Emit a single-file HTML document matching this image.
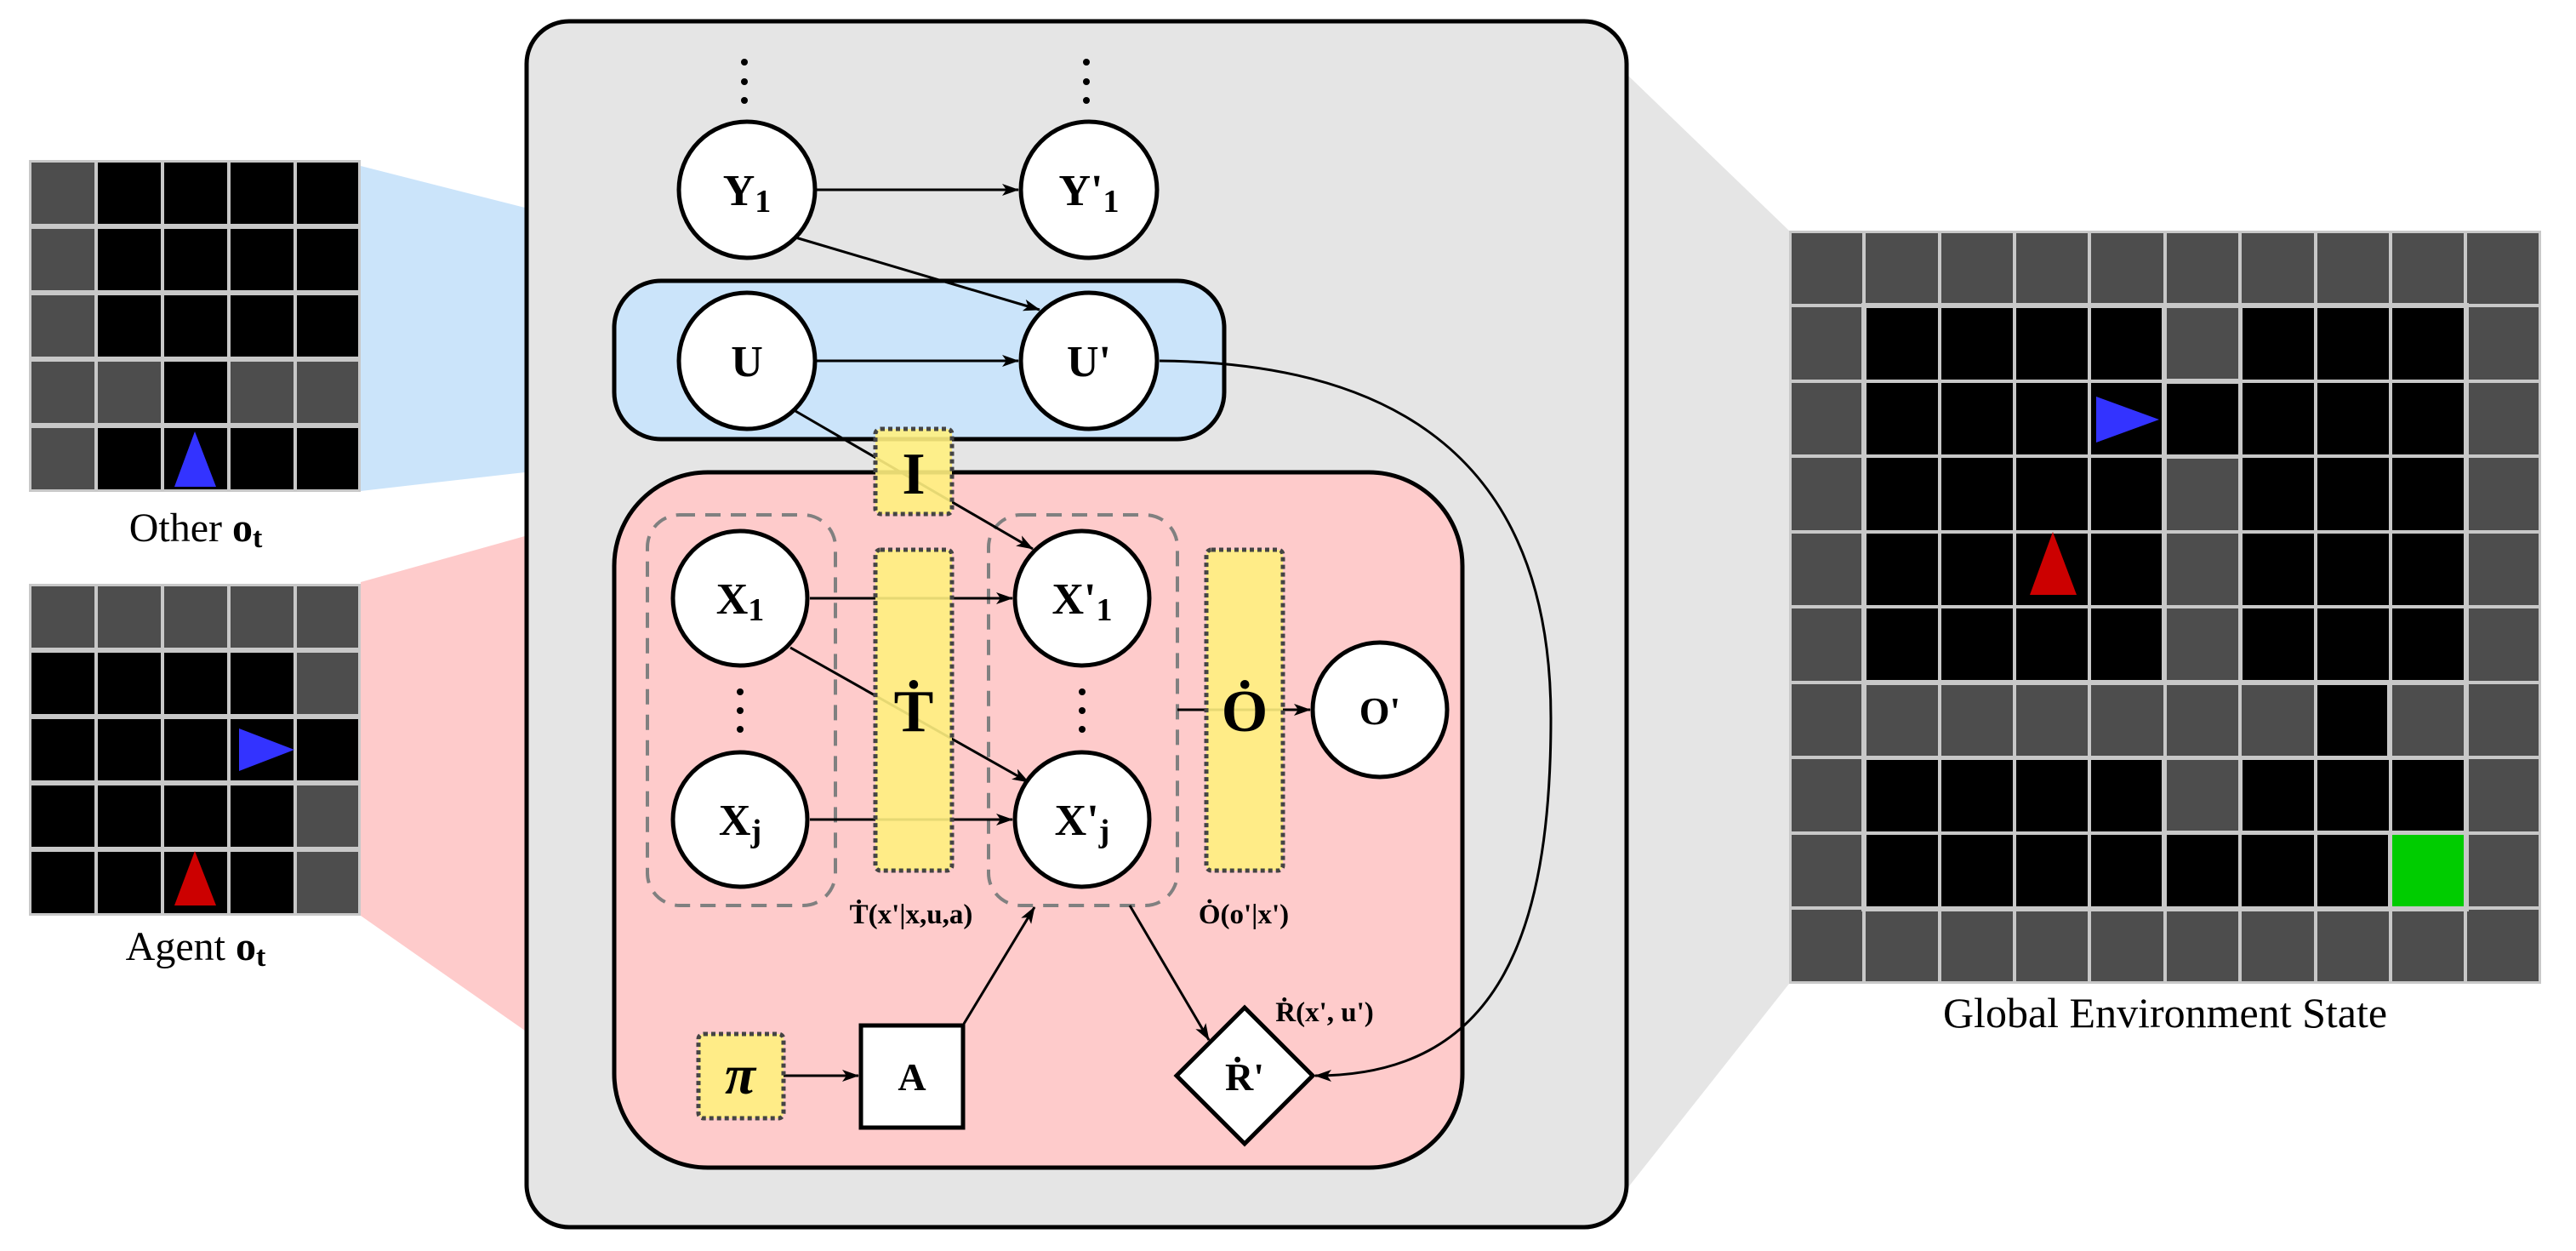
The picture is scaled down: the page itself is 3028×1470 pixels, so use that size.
<!DOCTYPE html>
<html><head><meta charset="utf-8"><style>
html,body{margin:0;padding:0;background:#fff;}
svg{display:block;}
text{font-family:"Liberation Serif",serif;}
.b{font-weight:bold;}
</style></head><body>
<svg width="3028" height="1470" viewBox="0 0 3028 1470" xmlns="http://www.w3.org/2000/svg">
<defs>
<marker id="ar" viewBox="0 0 20 14" refX="19" refY="7" markerWidth="20" markerHeight="14" markerUnits="userSpaceOnUse" orient="auto">
<path d="M0,0 L20,7 L0,14 L5,7 Z" fill="#000"/>
</marker>
</defs>

<polygon points="424,195 617,244 617,555 424,577" fill="#cbe4fa"/>
<polygon points="424,684 617,630 617,1211 424,1076" fill="#fecbcb"/>
<polygon points="1914,89 2103,271 2103,1156 1914,1395" fill="#e5e5e5"/>

<rect x="619" y="25" width="1293" height="1417" rx="50" fill="#e5e5e5" stroke="#000" stroke-width="5"/>
<rect x="722" y="330" width="717" height="186" rx="55" fill="#cbe4fa" stroke="#000" stroke-width="5"/>
<rect x="722" y="555" width="997" height="817" rx="110" fill="#fecbcb" stroke="#000" stroke-width="5"/>

<rect x="761" y="605" width="221" height="459" rx="38" fill="none" stroke="#808080" stroke-width="4" stroke-dasharray="18 12"/>
<rect x="1162" y="605" width="222" height="459" rx="38" fill="none" stroke="#808080" stroke-width="4" stroke-dasharray="18 12"/>

<g fill="#000">
<circle cx="875" cy="73" r="4"/><circle cx="875" cy="96" r="4"/><circle cx="875" cy="118" r="4"/>
<circle cx="1277" cy="73" r="4"/><circle cx="1277" cy="96" r="4"/><circle cx="1277" cy="118" r="4"/>
<circle cx="870" cy="813" r="4"/><circle cx="870" cy="835" r="4"/><circle cx="870" cy="857" r="4"/>
<circle cx="1272" cy="813" r="4"/><circle cx="1272" cy="835" r="4"/><circle cx="1272" cy="857" r="4"/>
</g>

<g stroke="#000" stroke-width="3" fill="none">
<line x1="960" y1="223" x2="1197" y2="223" marker-end="url(#ar)"/>
<line x1="935" y1="279" x2="1222" y2="364" marker-end="url(#ar)"/>
<line x1="960" y1="424" x2="1197" y2="424" marker-end="url(#ar)"/>
<line x1="935" y1="483" x2="1214" y2="645" marker-end="url(#ar)"/>
<line x1="952" y1="703" x2="1190" y2="703" marker-end="url(#ar)"/>
<line x1="929" y1="761" x2="1209" y2="919" marker-end="url(#ar)"/>
<line x1="952" y1="963" x2="1190" y2="963" marker-end="url(#ar)"/>
<line x1="1384" y1="834" x2="1540" y2="834" marker-end="url(#ar)"/>
<line x1="921" y1="1264" x2="1009" y2="1264" marker-end="url(#ar)"/>
<line x1="1133" y1="1203" x2="1216" y2="1066" marker-end="url(#ar)"/>
<line x1="1328" y1="1064" x2="1421" y2="1222" marker-end="url(#ar)"/>
<path d="M1363,424 C1640,426 1823,540 1823,844 C1823,1100 1760,1264 1546,1264" marker-end="url(#ar)"/>
</g>

<g fill="#fff080" fill-opacity="0.9" stroke="#444" stroke-width="5" stroke-dasharray="5 4">
<rect x="1029" y="504" width="90" height="100" rx="6"/>
<rect x="1029" y="646" width="90" height="377" rx="6"/>
<rect x="1418" y="646" width="90" height="377" rx="6"/>
<rect x="821" y="1215" width="100" height="99" rx="6"/>
</g>
<text x="1074" y="580" font-size="70" class="b" text-anchor="middle">I</text>
<text x="1074" y="859" font-size="70" class="b" text-anchor="middle">Ṫ</text>
<text x="1463" y="859" font-size="70" class="b" text-anchor="middle">Ȯ</text>
<text x="870" y="1285" font-size="66" class="b" font-style="italic" text-anchor="middle">π</text>

<g fill="#fff" stroke="#000" stroke-width="5">
<circle cx="878" cy="223" r="80"/>
<circle cx="1280" cy="223" r="80"/>
<circle cx="878" cy="424" r="80"/>
<circle cx="1280" cy="424" r="80"/>
<circle cx="870" cy="703" r="79"/>
<circle cx="1272" cy="703" r="79"/>
<circle cx="870" cy="963" r="79"/>
<circle cx="1272" cy="963" r="79"/>
<circle cx="1622" cy="834" r="79"/>
<rect x="1012" y="1205" width="120" height="120"/>
<polygon points="1463,1184 1543,1264 1463,1344 1383,1264"/>
</g>
<g class="b" text-anchor="middle" font-size="52">
<text x="878" y="241">Y<tspan font-size="38" dy="8">1</tspan></text>
<text x="1280" y="241">Y'<tspan font-size="38" dy="8">1</tspan></text>
<text x="878" y="442">U</text>
<text x="1280" y="442">U'</text>
<text x="870" y="721">X<tspan font-size="38" dy="8">1</tspan></text>
<text x="1272" y="721">X'<tspan font-size="38" dy="8">1</tspan></text>
<text x="870" y="981">X<tspan font-size="38" dy="8">j</tspan></text>
<text x="1272" y="981">X'<tspan font-size="38" dy="8">j</tspan></text>
<text x="1622" y="851" font-size="46">O'</text>
<text x="1072" y="1281" font-size="46">A</text>
<text x="1463" y="1281" font-size="46">Ṙ'</text>
</g>
<g class="b" text-anchor="middle" font-size="33">
<text x="1071" y="1085">Ṫ(x'|x,u,a)</text>
<text x="1462" y="1085">Ȯ(o'|x')</text>
<text x="1557" y="1200">Ṙ(x', u')</text>
</g>

<text x="230" y="636" font-size="48" text-anchor="middle">Other <tspan class="b">o</tspan><tspan class="b" font-size="34" dy="7">t</tspan></text>
<text x="230" y="1128" font-size="48" text-anchor="middle">Agent <tspan class="b">o</tspan><tspan class="b" font-size="34" dy="7">t</tspan></text>
<text x="2545" y="1207" font-size="50" text-anchor="middle">Global Environment State</text>

<g>
<rect x="34" y="188" width="390" height="390" fill="#c8c8c8"/>
<g fill="#4d4d4d">
<rect x="37" y="191" width="74" height="72"/><rect x="37" y="269" width="74" height="72"/><rect x="37" y="347" width="74" height="72"/><rect x="37" y="425" width="74" height="72"/><rect x="37" y="503" width="74" height="72"/>
<rect x="115" y="425" width="74" height="72"/><rect x="271" y="425" width="74" height="72"/><rect x="349" y="425" width="72" height="72"/>
</g>
<g fill="#000">
<rect x="115" y="191" width="74" height="72"/><rect x="193" y="191" width="74" height="72"/><rect x="271" y="191" width="74" height="72"/><rect x="349" y="191" width="72" height="72"/>
<rect x="115" y="269" width="74" height="72"/><rect x="193" y="269" width="74" height="72"/><rect x="271" y="269" width="74" height="72"/><rect x="349" y="269" width="72" height="72"/>
<rect x="115" y="347" width="74" height="72"/><rect x="193" y="347" width="74" height="72"/><rect x="271" y="347" width="74" height="72"/><rect x="349" y="347" width="72" height="72"/>
<rect x="193" y="425" width="74" height="72"/>
<rect x="115" y="503" width="74" height="72"/><rect x="193" y="503" width="74" height="72"/><rect x="271" y="503" width="74" height="72"/><rect x="349" y="503" width="72" height="72"/>
</g>
<polygon points="229,507 254,572 205,572" fill="#3333ff"/>
</g>

<g>
<rect x="34" y="686" width="390" height="390" fill="#c8c8c8"/>
<g fill="#4d4d4d">
<rect x="37" y="689" width="74" height="72"/><rect x="115" y="689" width="74" height="72"/><rect x="193" y="689" width="74" height="72"/><rect x="271" y="689" width="74" height="72"/><rect x="349" y="689" width="72" height="72"/>
<rect x="349" y="767" width="72" height="72"/><rect x="349" y="923" width="72" height="72"/><rect x="349" y="1001" width="72" height="72"/>
</g>
<g fill="#000">
<rect x="37" y="767" width="74" height="72"/><rect x="115" y="767" width="74" height="72"/><rect x="193" y="767" width="74" height="72"/><rect x="271" y="767" width="74" height="72"/>
<rect x="37" y="845" width="74" height="72"/><rect x="115" y="845" width="74" height="72"/><rect x="193" y="845" width="74" height="72"/><rect x="271" y="845" width="74" height="72"/><rect x="349" y="845" width="72" height="72"/>
<rect x="37" y="923" width="74" height="72"/><rect x="115" y="923" width="74" height="72"/><rect x="193" y="923" width="74" height="72"/><rect x="271" y="923" width="74" height="72"/>
<rect x="37" y="1001" width="74" height="72"/><rect x="115" y="1001" width="74" height="72"/><rect x="193" y="1001" width="74" height="72"/><rect x="271" y="1001" width="74" height="72"/>
</g>
<polygon points="281,856 346,881 281,906" fill="#3333ff"/>
<polygon points="229,1000 254,1064 205,1064" fill="#cc0000"/>
</g>

<g>
<rect x="2103" y="271" width="884" height="885" fill="#c8c8c8"/>
<g fill="#4d4d4d">
<rect x="2106" y="274" width="878" height="82"/>
<rect x="2106" y="1071" width="878" height="82"/>
<rect x="2106" y="274" width="82" height="879"/>
<rect x="2902" y="274" width="82" height="879"/>
<rect x="2194" y="805" width="612" height="83"/>
<rect x="2812" y="805" width="84" height="83"/>
<rect x="2547" y="362" width="84" height="83"/>
<rect x="2547" y="539" width="84" height="260"/>
<rect x="2547" y="893" width="84" height="83"/>
</g>
<g fill="#000">
<rect x="2194" y="362" width="347" height="437"/>
<rect x="2547" y="451" width="84" height="83"/>
<rect x="2636" y="362" width="260" height="437"/>
<rect x="2724" y="805" width="82" height="83"/>
<rect x="2194" y="893" width="347" height="172"/>
<rect x="2636" y="893" width="260" height="83"/>
<rect x="2547" y="981" width="260" height="84"/>
</g>
<rect x="2812" y="981" width="84" height="84" fill="#00cc00"/>
<g stroke="#c8c8c8" stroke-width="4">
<line x1="2191" y1="271" x2="2191" y2="1156"/><line x1="2280" y1="271" x2="2280" y2="1156"/><line x1="2368" y1="271" x2="2368" y2="1156"/><line x1="2456" y1="271" x2="2456" y2="1156"/><line x1="2545" y1="271" x2="2545" y2="1156"/><line x1="2633" y1="271" x2="2633" y2="1156"/><line x1="2722" y1="271" x2="2722" y2="1156"/><line x1="2810" y1="271" x2="2810" y2="1156"/><line x1="2898" y1="271" x2="2898" y2="1156"/>
<line x1="2103" y1="359" x2="2987" y2="359"/><line x1="2103" y1="448" x2="2987" y2="448"/><line x1="2103" y1="536" x2="2987" y2="536"/><line x1="2103" y1="625" x2="2987" y2="625"/><line x1="2103" y1="713" x2="2987" y2="713"/><line x1="2103" y1="802" x2="2987" y2="802"/><line x1="2103" y1="890" x2="2987" y2="890"/><line x1="2103" y1="979" x2="2987" y2="979"/><line x1="2103" y1="1067" x2="2987" y2="1067"/>
</g>
<polygon points="2464,466 2538,493 2464,520" fill="#3333ff"/>
<polygon points="2413,625 2441,699 2386,699" fill="#cc0000"/>
</g>
</svg>
</body></html>
